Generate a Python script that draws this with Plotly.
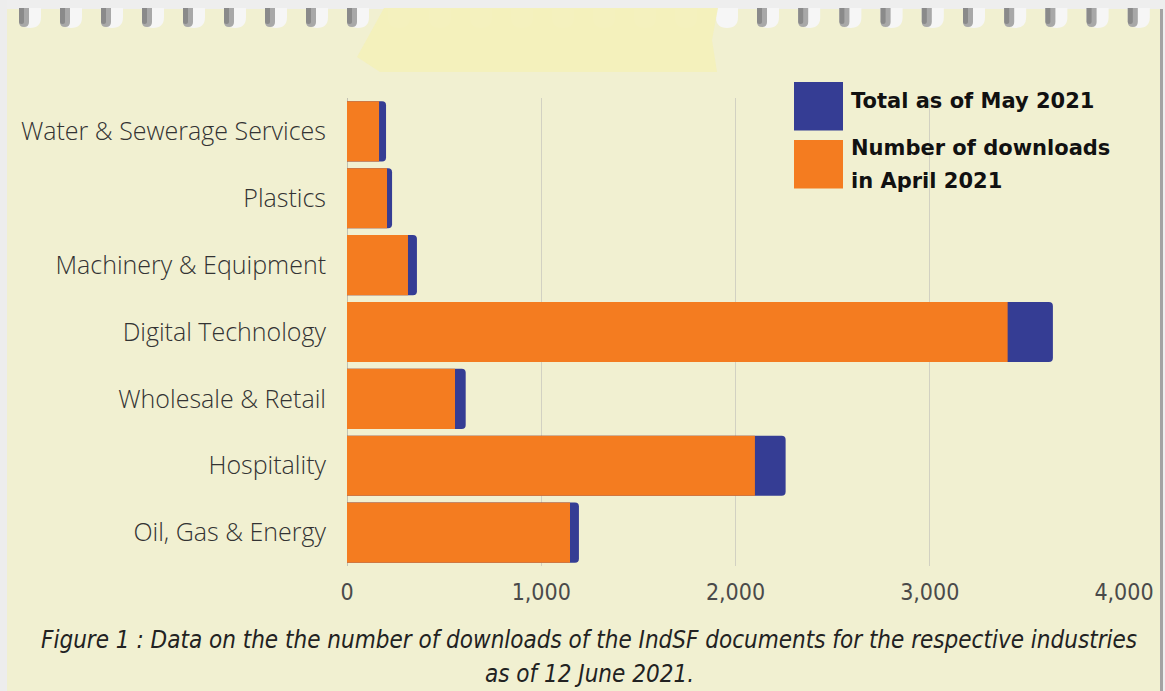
import plotly.graph_objects as go

# ---- data ----
industries = ["Water & Sewerage Services", "Plastics", "Machinery & Equipment",
              "Digital Technology", "Wholesale & Retail", "Hospitality", "Oil, Gas & Energy"]
april_2021 = [165, 206, 314, 3401, 556, 2100, 1148]
total_may_2021 = [201, 232, 360, 3634, 611, 2258, 1194]
x_ticks = [0, 1000, 2000, 3000, 4000]
x_tick_labels = ["0", "1,000", "2,000", "3,000", "4,000"]
legend_total_lines = ["Total as of May 2021"]
legend_april_lines = ["Number of downloads", "in April 2021"]
caption_lines = ["Figure 1 : Data on the the number of downloads of the IndSF documents for the respective industries",
                 "as of 12 June 2021."]

ORANGE = "#F47C20"
BLUE = "#353D94"
PAPER = "#F1F0D1"

W, H = 1165, 691
L, R, T, B = 347, 41, 98, 125
PW, PH = W - L - R, H - T - B


def px(x):
    return (x - L) / PW


def py(y):
    return (H - B - y) / PH


fig = go.Figure()
fig.add_trace(go.Bar(y=industries, x=total_may_2021, orientation="h", name=legend_total_lines[0],
                     marker=dict(color=BLUE, cornerradius=4, line=dict(width=0))))
fig.add_trace(go.Bar(y=industries, x=april_2021, orientation="h", name=" ".join(legend_april_lines),
                     marker=dict(color=ORANGE, cornerradius=0, line=dict(width=0))))


def rect(x0, x1, y0, y1, color, layer="below", opacity=1):
    return dict(type="rect", xref="paper", yref="paper", x0=px(x0), x1=px(x1), y0=py(y1), y1=py(y0),
                fillcolor=color, line=dict(width=0), layer=layer, opacity=opacity)


def hole_path(x0, x1, ytop, ybot):
    r = (x1 - x0) / 2
    xm = (x0 + x1) / 2
    ymid = ybot - r
    return (f"M {px(x0)},{py(ytop)} L {px(x0)},{py(ymid)} Q {px(x0)},{py(ybot)} {px(xm)},{py(ybot)} "
            f"Q {px(x1)},{py(ybot)} {px(x1)},{py(ymid)} L {px(x1)},{py(ytop)} Z")


shapes = []
# outer gray strips and edges
shapes.append(rect(0, W, 0, 9, "#EEEEEE"))
shapes.append(rect(0, 7, 0, H, "#EDEDED"))
shapes.append(rect(1160, W, 0, H, "#EEEEEE"))
shapes.append(rect(1160, 1163, 9, H, "#A3A3A3"))
# binding holes (decoration)
hole_centers = [30 + 41 * i for i in range(18)] + [768 + 41.2 * i for i in range(10)]
for hc in hole_centers:
    shapes.append(dict(type="path", xref="paper", yref="paper", path=hole_path(hc - 11, hc + 11, 8, 28),
                       fillcolor="#F6F6F6", line=dict(width=0), layer="below"))
    if hc < 360 or hc > 740:
        shapes.append(dict(type="path", xref="paper", yref="paper", path=hole_path(hc - 11, hc - 1, 8, 27),
                           fillcolor="#A8A8A8", line=dict(width=0), layer="below"))
        shapes.append(dict(type="path", xref="paper", yref="paper", path=hole_path(hc - 11, hc - 6, 8, 24),
                           fillcolor="#8A8A8A", line=dict(width=0), layer="below"))
# tape
tape = (f"M {px(384)},{py(8)} L {px(718)},{py(8)} L {px(712)},{py(40)} L {px(717)},{py(72)} "
        f"L {px(380)},{py(72)} L {px(357)},{py(57)} Z")
shapes.append(dict(type="path", xref="paper", yref="paper", path=tape,
                   fillcolor="#F3F0BA", opacity=0.95, line=dict(width=0), layer="below"))
# legend swatches
shapes.append(rect(794, 843, 82, 130.5, BLUE, layer="above"))
shapes.append(rect(794, 843, 140, 188.5, ORANGE, layer="above"))

legend_font = dict(family="DejaVu Sans", size=21, color="#111111")
annotations = []
for text, yc in zip(legend_total_lines + legend_april_lines, [101, 148, 181]):
    annotations.append(dict(text="<b>" + text + "</b>", xref="paper", yref="paper", x=px(849), y=py(yc),
                            xanchor="left", yanchor="middle", showarrow=False, font=legend_font))
cap_font = dict(family="Liberation Sans Narrow, DejaVu Sans Condensed, sans-serif", size=24,
                color="#222222", style="italic")
for text, yc in zip(caption_lines, [640, 674]):
    annotations.append(dict(text=text, xref="paper", yref="paper", x=px(589), y=py(yc),
                            xanchor="center", yanchor="middle", showarrow=False, font=cap_font))

fig.update_layout(
    width=W, height=H,
    margin=dict(l=L, r=R, t=T, b=B),
    paper_bgcolor=PAPER, plot_bgcolor="rgba(0,0,0,0)",
    barmode="overlay", bargap=0.1,
    showlegend=False,
    shapes=shapes, annotations=annotations,
    xaxis=dict(range=[0, 4000], tickvals=x_ticks, ticktext=x_tick_labels,
               showgrid=True, gridcolor="#D2D1C2", gridwidth=1,
               zeroline=True, zerolinecolor="#C2C1B3", zerolinewidth=1,
               showline=False, ticks="", ticklabelstandoff=10,
               tickfont=dict(family="Liberation Sans Narrow, DejaVu Sans Condensed, sans-serif",
                             size=23, color="#4A4A4A")),
    yaxis=dict(autorange="reversed", categoryorder="array", categoryarray=industries,
               showgrid=False, showline=False, ticks="", ticklabelstandoff=20,
               tickfont=dict(family="Open Sans", size=25, weight=300, color="#333333")),
)

fig.write_html("out.html", config={"displayModeBar": False},
               post_script="document.body.style.margin='0px';")
